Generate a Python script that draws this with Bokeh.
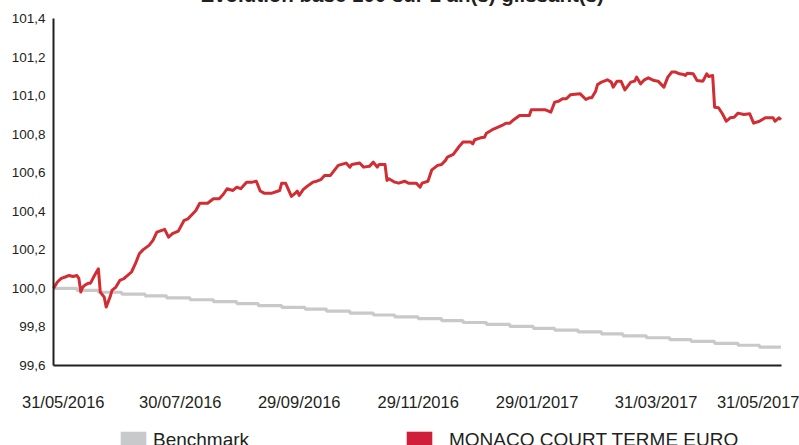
import pandas as pd
from bokeh.plotting import figure
from bokeh.models import (Range1d, FixedTicker, CustomJSTickFormatter, DatetimeTickFormatter,
                          Legend, LegendItem, ColumnDataSource, Label)
from bokeh.embed import file_html
from bokeh.resources import INLINE

# ---------------- data ----------------
TITLE = "Evolution base 100 sur 1 an(s) glissant(s)"
START = "2016-05-26"
DATA_DAYS = 373.3

FUND_NAME = "MONACO COURT TERME EURO"
fund_days = [0, 2, 4, 6, 8, 10, 12, 13, 14, 15, 16, 18, 19, 21, 23, 24, 26, 27, 29, 30,
             32, 34, 36, 38, 40, 42, 44, 46, 49, 51, 53, 57, 59, 61, 64, 67, 69, 73, 75, 79,
             82, 85, 87, 89, 92, 94, 96, 99, 102, 104, 106, 108, 112, 116, 117, 119, 122, 124, 125, 126,
             128, 130, 133, 135, 137, 139, 142, 144, 146, 150, 152, 153, 157, 159, 162, 164, 166, 167, 170, 171,
             172, 175, 177, 180, 182, 186, 188, 189, 192, 194, 197, 199, 201, 202, 205, 208, 210, 214, 215, 216,
             219, 221, 222, 225, 228, 230, 232, 234, 236, 239, 244, 245, 252, 255, 257, 259, 261, 263, 265, 270,
             273, 275, 276, 278, 279, 281, 284, 286, 287, 289, 291, 293, 296, 298, 299, 301, 303, 305, 308, 310,
             313, 315, 317, 319, 321, 323, 324, 325, 328, 330, 333, 335, 336, 338, 339, 341, 343, 345, 347, 349,
             351, 354, 357, 359, 362, 365, 369, 370, 372, 373]
fund_vals = [100.000, 100.033, 100.052, 100.059, 100.067, 100.062, 100.067, 100.052, 99.981, 100.007,
             100.016, 100.027, 100.027, 100.067, 100.102, 99.981, 99.955, 99.903, 99.955, 99.990,
             100.007, 100.041, 100.050, 100.067, 100.085, 100.128, 100.180, 100.201, 100.223, 100.249,
             100.292, 100.306, 100.266, 100.284, 100.297, 100.353, 100.361, 100.404, 100.442, 100.442,
             100.465, 100.465, 100.487, 100.517, 100.508, 100.525, 100.517, 100.551, 100.551, 100.556,
             100.505, 100.494, 100.494, 100.508, 100.546, 100.546, 100.477, 100.494, 100.505, 100.482,
             100.512, 100.529, 100.551, 100.556, 100.564, 100.586, 100.586, 100.612, 100.638, 100.650,
             100.629, 100.643, 100.650, 100.629, 100.633, 100.655, 100.629, 100.643, 100.643, 100.560,
             100.569, 100.551, 100.546, 100.556, 100.546, 100.546, 100.525, 100.546, 100.556, 100.615,
             100.638, 100.643, 100.664, 100.681, 100.695, 100.736, 100.759, 100.759, 100.750, 100.771,
             100.781, 100.784, 100.805, 100.823, 100.836, 100.845, 100.857, 100.857, 100.875, 100.897,
             100.897, 100.927, 100.927, 100.914, 100.966, 100.971, 100.984, 100.984, 101.004, 101.010,
             100.980, 100.989, 100.989, 101.023, 101.058, 101.070, 101.082, 101.070, 101.044, 101.075,
             101.075, 101.030, 101.070, 101.075, 101.096, 101.061, 101.082, 101.092, 101.078, 101.075,
             101.044, 101.096, 101.122, 101.122, 101.113, 101.110, 101.104, 101.116, 101.113, 101.078,
             101.075, 101.113, 101.099, 101.104, 100.940, 100.937, 100.906, 100.867, 100.885, 100.888,
             100.909, 100.902, 100.906, 100.857, 100.867, 100.885, 100.885, 100.867, 100.885, 100.875]

BENCH_NAME = "Benchmark"
bench_days = [0, 12, 23, 35, 47, 58, 70, 82, 94, 105, 117, 129, 140, 152, 164, 175, 187, 199, 210, 222,
              234, 246, 257, 269, 281, 292, 304, 316, 327, 339, 351, 362, 373]
bench_vals = [100.000, 99.990, 99.980, 99.970, 99.961, 99.951, 99.941, 99.931, 99.921, 99.911,
              99.902, 99.892, 99.882, 99.872, 99.862, 99.852, 99.843, 99.833, 99.823, 99.813,
              99.803, 99.793, 99.784, 99.774, 99.764, 99.754, 99.744, 99.734, 99.725, 99.715,
              99.705, 99.695, 99.695]

Y_MIN, Y_MAX = 99.6, 101.4
y_ticks = [99.6, 99.8, 100.0, 100.2, 100.4, 100.6, 100.8, 101.0, 101.2, 101.4]
x_tick_dates = ["2016-05-31", "2016-07-30", "2016-09-29", "2016-11-29", "2017-01-29", "2017-03-31"]
last_label = "31/05/2017"

# ---------------- layout / styling ----------------
FONT = "Liberation Sans"
TXT = "#231f20"
RED = "#d12d33"
RED_SWATCH = "#d01f3a"
GRAY = "#c9c9c9"
GRAY_SWATCH = "#c8c9ca"

SHIFT = 30           # canvas pushed up so the title is cut at the top edge, as in the original
W, H = 799, 445
AX_LEFT, AX_RIGHT = 53, 781   # plot area in page pixels
AX_TOP, AX_BOTTOM = 18, 365
FRAME_TOP = 6                 # drawing region starts a little above the axis top

px_per_day = (AX_RIGHT - AX_LEFT) / DATA_DAYS
px_per_unit = (AX_BOTTOM - AX_TOP) / (Y_MAX - Y_MIN)
start = pd.Timestamp(START)
start_ms = start.value / 1e6
x_begin = start - pd.Timedelta(days=AX_LEFT / px_per_day)
x_end = start + pd.Timedelta(days=(W - AX_LEFT) / px_per_day)
y_low = Y_MIN - (H - AX_BOTTOM) / px_per_unit
y_high = Y_MAX + (AX_TOP - FRAME_TOP) / px_per_unit

fund_x = [start + pd.Timedelta(days=d) for d in fund_days]
bench_x = [start + pd.Timedelta(days=d) for d in bench_days]

p = figure(width=W, height=H + SHIFT, x_axis_type="datetime", output_backend="svg",
           toolbar_location=None,
           x_range=Range1d(x_begin, x_end), y_range=Range1d(y_low, y_high),
           min_border_left=0, min_border_right=0, min_border_top=FRAME_TOP + SHIFT,
           min_border_bottom=0)
p.styles = {"margin-top": f"-{SHIFT}px"}
p.outline_line_color = None
p.xgrid.visible = False
p.ygrid.visible = False
p.background_fill_color = "white"
p.border_fill_color = "white"

# title
p.title.text = TITLE
p.title.align = "left"
p.title.offset = 200
p.title.standoff = 1
p.title.text_font = FONT
p.title.text_font_style = "bold"
p.title.text_font_size = "20.5px"
p.title.text_color = TXT

bench_src = ColumnDataSource(dict(x=bench_x, y=bench_vals))
fund_src = ColumnDataSource(dict(x=fund_x, y=fund_vals))
p.step("x", "y", source=bench_src, mode="after", line_color=GRAY, line_width=3.2)
p.line("x", "y", source=fund_src, line_color=RED, line_width=3, line_join="round")

# axes
for ax in (p.xaxis[0], p.yaxis[0]):
    ax.axis_line_color = TXT
    ax.axis_line_width = 2
    ax.major_tick_line_color = None
    ax.minor_tick_line_color = None
    ax.major_tick_out = 0
    ax.major_tick_in = 0
    ax.minor_tick_out = 0
    ax.major_label_text_font = FONT
    ax.major_label_text_color = TXT

p.yaxis.fixed_location = start_ms
p.yaxis.bounds = (Y_MIN, Y_MAX)
p.yaxis.ticker = FixedTicker(ticks=y_ticks)
p.yaxis.formatter = CustomJSTickFormatter(code="return tick.toFixed(1).replace('.', ',');")
p.yaxis.major_label_text_font_size = "13.5px"
p.yaxis.major_label_standoff = 8

x_ticks = [pd.Timestamp(d).value // 10**6 for d in x_tick_dates]
p.xaxis.fixed_location = Y_MIN
p.xaxis.bounds = (start, start + pd.Timedelta(days=DATA_DAYS))
p.xaxis.ticker = FixedTicker(ticks=x_ticks)
fmt = "%d/%m/%Y"
p.xaxis.formatter = DatetimeTickFormatter(days=fmt, months=fmt, years=fmt, hours=fmt,
                                          minutes=fmt, seconds=fmt, milliseconds=fmt,
                                          microseconds=fmt, hourmin=fmt, minsec=fmt)
p.xaxis.major_label_text_font_size = "16.5px"
p.xaxis.major_label_standoff = 27

# last date label, kept inside the page as in the original
p.add_layout(Label(x=W, y=Y_MIN, x_units="screen", y_units="data", y_offset=-27,
                   text=last_label, text_align="right", text_baseline="top", text_font=FONT,
                   text_font_size="16.5px", text_color=TXT))

# legend swatches (zero-size marks, only used for the legend)
r_gray = p.quad(left=[x_begin], right=[x_begin], top=[y_low], bottom=[y_low],
                fill_color=GRAY_SWATCH, line_color=None)
r_red = p.quad(left=[x_begin], right=[x_begin], top=[y_low], bottom=[y_low],
               fill_color=RED_SWATCH, line_color=None)

def mk_legend(label, rend, x, standoff):
    lg = Legend(items=[LegendItem(label=label, renderers=[rend])], location=(x, -6),
                orientation="horizontal", padding=0, margin=0, border_line_color=None,
                background_fill_alpha=0, glyph_width=32, glyph_height=22,
                label_standoff=standoff, label_text_font=FONT, label_text_font_size="19px",
                label_text_baseline="alphabetic", label_text_color=TXT)
    p.add_layout(lg, "center")

mk_legend(BENCH_NAME, r_gray, 117, 4)
mk_legend(FUND_NAME, r_red, 403, 14)

open("out.html", "w").write(file_html(p, INLINE))
